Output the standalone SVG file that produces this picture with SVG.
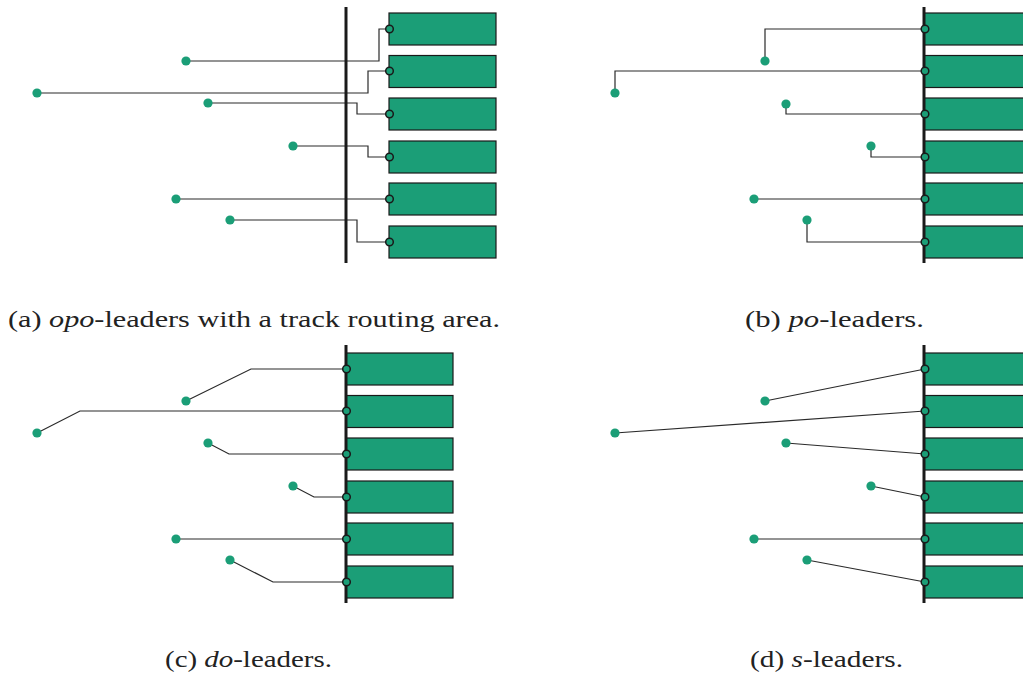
<svg xmlns="http://www.w3.org/2000/svg" width="1023" height="673" viewBox="0 0 1023 673">
<style>
.bar{stroke:#1a1a1a;stroke-width:3;fill:none}
.box{fill:#1b9e77;stroke:#1a1a1a;stroke-width:1.2}
.lead{fill:none;stroke:#2a2a2a;stroke-width:1.2}
.site{fill:#1b9e77}
.port{fill:#1b9e77;stroke:#1a1a1a;stroke-width:1.5}
.cap{font-family:"Times New Roman","Liberation Serif",serif;font-size:24px;fill:#222}
.it{font-style:italic}
</style>
<rect width="1023" height="673" fill="#fff"/>

<!-- Panel (a) -->
<g id="panel-a">
  <g id="a-connectors">
    <polyline class="lead" points="186,61 379,61 379,29 389,29"/>
    <polyline class="lead" points="37,93 368,93 368,71 389,71"/>
    <polyline class="lead" points="208,103 357,103 357,114 389,114"/>
    <polyline class="lead" points="293,146 368,146 368,157 389,157"/>
    <polyline class="lead" points="176,199 389,199"/>
    <polyline class="lead" points="230,220 357,220 357,242 389,242"/>
  </g>
  <line class="bar" x1="346" y1="7" x2="346" y2="263"/>
  <g id="a-label1"><rect class="box" x="389" y="13" width="107" height="32"/><circle class="port" cx="389.5" cy="29" r="3.8"/><circle class="site" cx="186" cy="61" r="4.6"/></g>
  <g id="a-label2"><rect class="box" x="389" y="55.5" width="107" height="32"/><circle class="port" cx="389.5" cy="71" r="3.8"/><circle class="site" cx="37" cy="93" r="4.6"/></g>
  <g id="a-label3"><rect class="box" x="389" y="98" width="107" height="32"/><circle class="port" cx="389.5" cy="114" r="3.8"/><circle class="site" cx="208" cy="103" r="4.6"/></g>
  <g id="a-label4"><rect class="box" x="389" y="141" width="107" height="32"/><circle class="port" cx="389.5" cy="157" r="3.8"/><circle class="site" cx="293" cy="146" r="4.6"/></g>
  <g id="a-label5"><rect class="box" x="389" y="183" width="107" height="32"/><circle class="port" cx="389.5" cy="199" r="3.8"/><circle class="site" cx="176" cy="199" r="4.6"/></g>
  <g id="a-label6"><rect class="box" x="389" y="226" width="107" height="32"/><circle class="port" cx="389.5" cy="242" r="3.8"/><circle class="site" cx="230" cy="220" r="4.6"/></g>
  <text class="cap" x="8" y="327" textLength="492" lengthAdjust="spacingAndGlyphs">(a) <tspan class="it">opo</tspan>-leaders with a track routing area.</text>
</g>

<!-- Panel (b) -->
<g id="panel-b">
  <g id="b-connectors">
    <polyline class="lead" points="765,61 765,29 925,29"/>
    <polyline class="lead" points="615,93 615,71 925,71"/>
    <polyline class="lead" points="786,104 786,114 925,114"/>
    <polyline class="lead" points="871,146 871,157 925,157"/>
    <polyline class="lead" points="754,199 925,199"/>
    <polyline class="lead" points="807,220 807,242 925,242"/>
  </g>
  <g id="b-label1"><rect class="box" x="924" y="13" width="110" height="32"/></g>
  <g id="b-label2"><rect class="box" x="924" y="55.5" width="110" height="32"/></g>
  <g id="b-label3"><rect class="box" x="924" y="98" width="110" height="32"/></g>
  <g id="b-label4"><rect class="box" x="924" y="141" width="110" height="32"/></g>
  <g id="b-label5"><rect class="box" x="924" y="183" width="110" height="32"/></g>
  <g id="b-label6"><rect class="box" x="924" y="226" width="110" height="32"/></g>
  <line class="bar" x1="924" y1="7" x2="924" y2="263"/>
  <g id="b-ports">
    <circle class="port" cx="925" cy="29" r="3.8"/><circle class="site" cx="765" cy="61" r="4.6"/>
    <circle class="port" cx="925" cy="71" r="3.8"/><circle class="site" cx="615" cy="93" r="4.6"/>
    <circle class="port" cx="925" cy="114" r="3.8"/><circle class="site" cx="786" cy="104" r="4.6"/>
    <circle class="port" cx="925" cy="157" r="3.8"/><circle class="site" cx="871" cy="146" r="4.6"/>
    <circle class="port" cx="925" cy="199" r="3.8"/><circle class="site" cx="754" cy="199" r="4.6"/>
    <circle class="port" cx="925" cy="242" r="3.8"/><circle class="site" cx="807" cy="220" r="4.6"/>
  </g>
  <text class="cap" x="745" y="327" textLength="179" lengthAdjust="spacingAndGlyphs">(b) <tspan class="it">po</tspan>-leaders.</text>
</g>

<!-- Panel (c) -->
<g id="panel-c">
  <g id="c-connectors">
    <polyline class="lead" points="186,401 251,369 346,369"/>
    <polyline class="lead" points="37,433 80,411 346,411"/>
    <polyline class="lead" points="208,443 229,454 346,454"/>
    <polyline class="lead" points="293,486 314,497 346,497"/>
    <polyline class="lead" points="176,539 346,539"/>
    <polyline class="lead" points="230,560 273,582 346,582"/>
  </g>
  <g id="c-label1"><rect class="box" x="346" y="353" width="107" height="32"/></g>
  <g id="c-label2"><rect class="box" x="346" y="395.5" width="107" height="32"/></g>
  <g id="c-label3"><rect class="box" x="346" y="438" width="107" height="32"/></g>
  <g id="c-label4"><rect class="box" x="346" y="481" width="107" height="32"/></g>
  <g id="c-label5"><rect class="box" x="346" y="523" width="107" height="32"/></g>
  <g id="c-label6"><rect class="box" x="346" y="566" width="107" height="32"/></g>
  <line class="bar" x1="346" y1="345" x2="346" y2="603"/>
  <g id="c-ports">
    <circle class="port" cx="346.5" cy="369" r="3.8"/><circle class="site" cx="186" cy="401" r="4.6"/>
    <circle class="port" cx="346.5" cy="411" r="3.8"/><circle class="site" cx="37" cy="433" r="4.6"/>
    <circle class="port" cx="346.5" cy="454" r="3.8"/><circle class="site" cx="208" cy="443" r="4.6"/>
    <circle class="port" cx="346.5" cy="497" r="3.8"/><circle class="site" cx="293" cy="486" r="4.6"/>
    <circle class="port" cx="346.5" cy="539" r="3.8"/><circle class="site" cx="176" cy="539" r="4.6"/>
    <circle class="port" cx="346.5" cy="582" r="3.8"/><circle class="site" cx="230" cy="560" r="4.6"/>
  </g>
  <text class="cap" x="165" y="667" textLength="167" lengthAdjust="spacingAndGlyphs">(c) <tspan class="it">do</tspan>-leaders.</text>
</g>

<!-- Panel (d) -->
<g id="panel-d">
  <g id="d-connectors">
    <line class="lead" x1="765" y1="401" x2="925" y2="369"/>
    <line class="lead" x1="615" y1="433" x2="925" y2="411"/>
    <line class="lead" x1="786" y1="443" x2="925" y2="454"/>
    <line class="lead" x1="871" y1="486" x2="925" y2="497"/>
    <line class="lead" x1="754" y1="539" x2="925" y2="539"/>
    <line class="lead" x1="807" y1="560" x2="925" y2="582"/>
  </g>
  <g id="d-label1"><rect class="box" x="924" y="353" width="110" height="32"/></g>
  <g id="d-label2"><rect class="box" x="924" y="395.5" width="110" height="32"/></g>
  <g id="d-label3"><rect class="box" x="924" y="438" width="110" height="32"/></g>
  <g id="d-label4"><rect class="box" x="924" y="481" width="110" height="32"/></g>
  <g id="d-label5"><rect class="box" x="924" y="523" width="110" height="32"/></g>
  <g id="d-label6"><rect class="box" x="924" y="566" width="110" height="32"/></g>
  <line class="bar" x1="924" y1="345" x2="924" y2="603"/>
  <g id="d-ports">
    <circle class="port" cx="925" cy="369" r="3.8"/><circle class="site" cx="765" cy="401" r="4.6"/>
    <circle class="port" cx="925" cy="411" r="3.8"/><circle class="site" cx="615" cy="433" r="4.6"/>
    <circle class="port" cx="925" cy="454" r="3.8"/><circle class="site" cx="786" cy="443" r="4.6"/>
    <circle class="port" cx="925" cy="497" r="3.8"/><circle class="site" cx="871" cy="486" r="4.6"/>
    <circle class="port" cx="925" cy="539" r="3.8"/><circle class="site" cx="754" cy="539" r="4.6"/>
    <circle class="port" cx="925" cy="582" r="3.8"/><circle class="site" cx="807" cy="560" r="4.6"/>
  </g>
  <text class="cap" x="750" y="667" textLength="153" lengthAdjust="spacingAndGlyphs">(d) <tspan class="it">s</tspan>-leaders.</text>
</g>
</svg>
